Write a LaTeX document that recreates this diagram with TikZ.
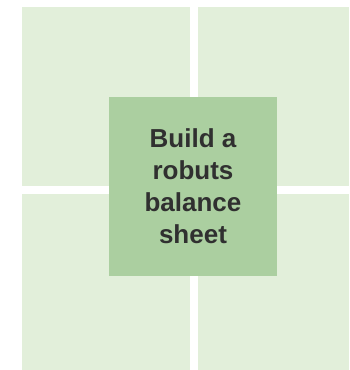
\documentclass[tikz,border=0pt]{standalone}
\usepackage{fontspec}
\setmainfont{Liberation Sans}
\definecolor{lightg}{HTML}{E2EFDA}
\definecolor{midg}{HTML}{ABCFA0}
\definecolor{txt}{HTML}{303030}
\begin{document}
\begin{tikzpicture}[x=1pt,y=-1pt,
  quad/.style={fill=lightg,draw=none},
  centre/.style={fill=midg,draw=none,minimum width=168pt,minimum height=179pt,inner sep=0pt,
    align=center,font=\bfseries\fontsize{26}{31.7}\selectfont,text=txt}]
\useasboundingbox (0,0) rectangle (349,370);
\fill[quad] (22,7) rectangle (190,186);
\fill[quad] (198,7) rectangle (349,186);
\fill[quad] (22,194) rectangle (190,370);
\fill[quad] (198,194) rectangle (349,370);
\node[centre] (c) at (193,186.2) {Build a\\robuts\\balance\\sheet};
\end{tikzpicture}
\end{document}
